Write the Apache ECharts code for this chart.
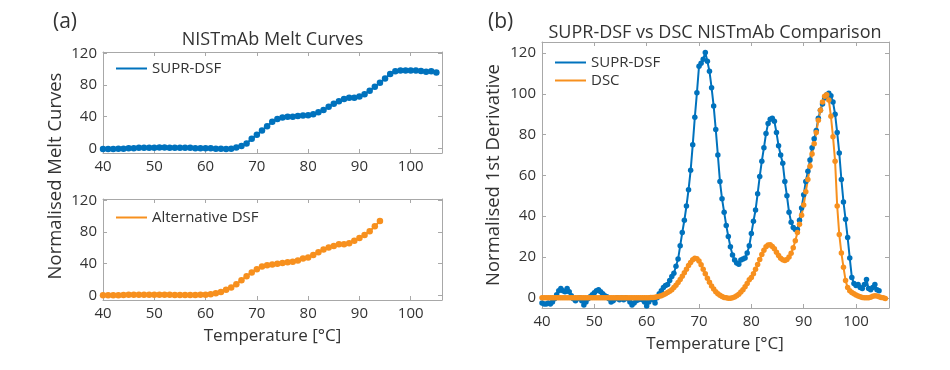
<!DOCTYPE html>
<html><head><meta charset="utf-8">
<script src="https://cdn.jsdelivr.net/npm/echarts@6/dist/echarts.min.js"></script>
<style>html,body{margin:0;padding:0;background:#fff}#c{width:950px;height:370px}</style>
</head><body><div id="c"></div>
<script>
// ---------- Panel (a): melt curves ----------
const tempMeltSupr = [40,41,42,43,44,45,46,47,48,49,
  50,51,52,53,54,55,56,57,58,59,
  60,61,62,63,64,65,66,67,68,69,
  70,71,72,73,74,75,76,77,78,79,
  80,81,82,83,84,85,86,87,88,89,
  90,91,92,93,94,95,96,97,98,99,
  100,101,102,103,104,105];
const meltSupr = [-1,-1,-1,-0.5,-0.5,0,0,0.5,0.5,0.5,
  0.5,1,1,0.5,0.5,0.5,0.5,0.5,0,0,
  0,0,-0.5,-0.5,-1,-0.5,1,3,6,12,
  17,22.5,28,33.5,37,39,40,40,41,41.5,
  42,43,45.5,48.5,52.5,56.5,59.5,62.5,64,64,
  65.5,68.5,73,78,83,88.5,94,97.5,98.5,98.5,
  98.5,98.5,98,97,97.5,96];
const tempMeltAlt = [40,41,42,43,44,45,46,47,48,49,
  50,51,52,53,54,55,56,57,58,59,
  60,61,62,63,64,65,66,67,68,69,
  70,71,72,73,74,75,76,77,78,79,
  80,81,82,83,84,85,86,87,88,89,
  90,91,92,93,94];
const meltAlt = [0,0,0,0,0.3,0.5,0.5,0.7,0.8,0.8,
  0.8,0.7,0.5,0.5,0.3,0.3,0.3,0.3,0.3,0.5,
  0.8,1.3,2.5,4,7,10,14,19,24,29,
  33,36.5,38,39,40,41,41.7,42.5,44,46.5,
  48,51,54.5,58,60.5,62.5,64.5,64.5,66,69,
  72.5,76.5,81,87.5,94];

// ---------- Panel (b): first derivative ----------
const tempDerivSupr = [40.0,40.4,40.8,41.2,41.6,42.0,42.4,42.8,43.2,43.6,
  44.0,44.4,44.8,45.2,45.6,46.0,46.4,46.8,47.2,47.6,
  48.0,48.4,48.8,49.2,49.6,50.0,50.4,50.8,51.2,51.6,
  52.0,52.4,52.8,53.2,53.6,54.0,54.4,54.8,55.2,55.6,
  56.0,56.4,56.8,57.2,57.6,58.0,58.4,58.8,59.2,59.6,
  60.0,60.4,60.8,61.2,61.6,62.0,62.4,62.8,63.2,63.6,
  64.0,64.4,64.8,65.2,65.6,66.0,66.4,66.8,67.2,67.6,
  68.0,68.4,68.8,69.2,69.6,70.0,70.4,70.8,71.2,71.6,
  72.0,72.4,72.8,73.2,73.6,74.0,74.4,74.8,75.2,75.6,
  76.0,76.4,76.8,77.2,77.6,78.0,78.4,78.8,79.2,79.6,
  80.0,80.4,80.8,81.2,81.6,82.0,82.4,82.8,83.2,83.6,
  84.0,84.4,84.8,85.2,85.6,86.0,86.4,86.8,87.2,87.6,
  88.0,88.4,88.8,89.2,89.6,90.0,90.4,90.8,91.2,91.6,
  92.0,92.4,92.8,93.2,93.6,94.0,94.4,94.8,95.2,95.6,
  96.0,96.4,96.8,97.2,97.6,98.0,98.4,98.8,99.2,99.6,
  100.0,100.4,100.8,101.2,101.6,102.0,102.4,102.8,103.2,103.6,
  104.0,104.4];
const derivSupr = [-2.5,-3,-3,-2.5,-3,-2,-0.5,1.5,3.5,4.5,
  3.5,3,4.5,3,1,-0.5,-1.5,-0.5,0,-1.5,
  -3.5,-2,-0.5,0.5,1.5,2.5,3.5,4,3,2,
  1,0.5,-0.5,-2,-1.5,-0.5,0,-1,0,-1,
  0,-0.5,-2,-3.5,-2.5,-1.5,-1,-0.5,-1,-2,
  -4,-2,0,-1,-2.5,0,2,3.5,5,6,
  6.5,8.5,10.5,12,15.5,19,25.5,32,38,45,
  53,62.5,75,88.5,100.5,113.5,115,117,120.3,116,
  111,103,94,82.5,70,57,48.5,42,35.5,30,
  25,21,18.5,17,16.5,18.5,19,19.5,22,25.5,
  31.5,37.5,43,51,59.5,67,73.5,80.5,85.5,87.5,
  88,86.5,81,74.5,70,66,57,50,42,37,
  34.5,33.5,33.5,38,44,50.5,57,62,67.5,73.5,
  78,82,88,92,95,98,99.6,100.3,99,96,
  90,81,71,58,47,38.5,29.5,19.5,10,7,
  6,6.5,5,4.5,6.5,9,4.5,4,5,6.5,
  4,3.5];
const tempDerivDsc = [40.0,40.4,40.8,41.2,41.6,42.0,42.4,42.8,43.2,43.6,
  44.0,44.4,44.8,45.2,45.6,46.0,46.4,46.8,47.2,47.6,
  48.0,48.4,48.8,49.2,49.6,50.0,50.4,50.8,51.2,51.6,
  52.0,52.4,52.8,53.2,53.6,54.0,54.4,54.8,55.2,55.6,
  56.0,56.4,56.8,57.2,57.6,58.0,58.4,58.8,59.2,59.6,
  60.0,60.4,60.8,61.2,61.6,62.0,62.4,62.8,63.2,63.6,
  64.0,64.4,64.8,65.2,65.6,66.0,66.4,66.8,67.2,67.6,
  68.0,68.4,68.8,69.2,69.6,70.0,70.4,70.8,71.2,71.6,
  72.0,72.4,72.8,73.2,73.6,74.0,74.4,74.8,75.2,75.6,
  76.0,76.4,76.8,77.2,77.6,78.0,78.4,78.8,79.2,79.6,
  80.0,80.4,80.8,81.2,81.6,82.0,82.4,82.8,83.2,83.6,
  84.0,84.4,84.8,85.2,85.6,86.0,86.4,86.8,87.2,87.6,
  88.0,88.4,88.8,89.2,89.6,90.0,90.4,90.8,91.2,91.6,
  92.0,92.4,92.8,93.2,93.6,94.0,94.4,94.8,95.2,95.6,
  96.0,96.4,96.8,97.2,97.6,98.0,98.4,98.8,99.2,99.6,
  100.0,100.4,100.8,101.2,101.6,102.0,102.4,102.8,103.2,103.6,
  104.0,104.4,104.8,105.2,105.6];
const derivDsc = [0,0,0,0,0,0,0,0,0,0,
  0,0,0,0,0,0,0,0,0,0,
  0,0,0,0,0,0,0,0,0,0,
  0,0,0,0,0,0,0,0,0,0,
  0,0,0,0,0,0,0,0,0,0,
  0,0,0.1,0.2,0.3,0.5,0.7,1,1.5,2,
  2.6,3.2,4,5,6.2,7.5,9,10.6,12.3,14,
  15.8,17.3,18.6,19.4,19.2,18,16.2,14,11.8,9.6,
  7.6,5.8,4.3,3,2,1.2,0.6,0.2,0,-0.2,
  -0.2,0,0.4,1,1.8,2.8,4,5.4,7,8.8,
  10,11.8,14,16.3,18.8,21.2,23.3,25,25.9,26,
  25.2,24,22.3,20.7,19.4,18.6,18.3,18.8,20,21.8,
  24.5,28,32,36,40.5,45.5,52,58,64.5,70.5,
  75.5,81,87,92,96,98.8,99.6,97,89,79,
  67,45,31,22,15,8.5,5,3.5,2.6,2,
  1.4,0.9,0.5,0.2,0,0,0,0.3,0.8,1,
  0.9,0.5,0.2,0,-0.3];

// ---------- Tick labels ----------
const xTickValues = [40,50,60,70,80,90,100];
const yTicksMelt = [0,40,80,120];
const yTicksDeriv = [0,20,40,60,80,100,120];

const BLUE = '#0072BD', ORANGE = '#F7901E';
const FONT = "'Open Sans', sans-serif";
const TXT = '#333333', BOX = '#a8a8a8';

function pairs(xs, ys){ return xs.map((x,i)=>[x, ys[i]]); }

const grids = [
  {left:103, top:52, width:339, height:101},
  {left:103, top:199, width:339, height:101},
  {left:542, top:42, width:347, height:266}
];
const xr = [[40,106.1],[40,106.1],[40,106.3]];
const yr = [[-6,122],[-6,122],[-5,125.4]];
const yt = [yTicksMelt, yTicksMelt, yTicksDeriv];

const xAxes = [], yAxes = [];
grids.forEach((g,i)=>{
  const common = {type:'value', gridIndex:i, splitLine:{show:false},
    axisLine:{show:true, onZero:false, lineStyle:{color:BOX,width:1}},
    axisTick:{show:true, inside:true, length:4, lineStyle:{color:BOX}}};
  xAxes.push(Object.assign({}, common, {position:'bottom', min:xr[i][0], max:xr[i][1],
    axisTick:Object.assign({}, common.axisTick, {customValues:xTickValues}),
    axisLabel:{show:true, customValues:xTickValues, margin:6, color:TXT, fontSize:15, fontFamily:FONT}}));
  xAxes.push(Object.assign({}, common, {position:'top', min:xr[i][0], max:xr[i][1],
    axisTick:Object.assign({}, common.axisTick, {customValues:xTickValues}),
    axisLabel:{show:false}}));
  yAxes.push(Object.assign({}, common, {position:'left', min:yr[i][0], max:yr[i][1],
    axisTick:Object.assign({}, common.axisTick, {customValues:yt[i]}),
    axisLabel:{show:true, customValues:yt[i], margin:6, color:TXT, fontSize:15, fontFamily:FONT}}));
  yAxes.push(Object.assign({}, common, {position:'right', min:yr[i][0], max:yr[i][1],
    axisTick:Object.assign({}, common.axisTick, {customValues:yt[i]}),
    axisLabel:{show:false}}));
});

function lineSeries(name, gi, xs, ys, color, size){
  return {type:'line', name:name, xAxisIndex:gi*2, yAxisIndex:gi*2, data:pairs(xs,ys),
    symbol:'circle', symbolSize:size, showSymbol:true, showAllSymbol:true,
    lineStyle:{color:color, width:2}, itemStyle:{color:color}, emphasis:{disabled:true}};
}

const legendCommon = {icon:'rect', itemWidth:31, itemHeight:2, itemGap:3, orient:'vertical',
  textStyle:{color:TXT, fontSize:15, fontFamily:FONT}, selectedMode:false, padding:0};

const chart = echarts.init(document.getElementById('c'), null, {renderer:'canvas'});
chart.setOption({
  animation:false,
  backgroundColor:'#fff',
  grid: grids.map(g=>Object.assign({containLabel:false}, g)),
  xAxis: xAxes,
  yAxis: yAxes,
  legend: [
    Object.assign({}, legendCommon, {left:116, top:61, data:['SUPR-DSF']}),
    Object.assign({}, legendCommon, {left:116, top:210, data:['Alternative DSF']}),
    Object.assign({}, legendCommon, {left:555, top:55, data:['SUPR-DSF','DSC']})
  ],
  series: [
    lineSeries('SUPR-DSF', 0, tempMeltSupr, meltSupr, BLUE, 6.5),
    lineSeries('Alternative DSF', 1, tempMeltAlt, meltAlt, ORANGE, 6.5),
    lineSeries('SUPR-DSF', 2, tempDerivSupr, derivSupr, BLUE, 5.5),
    lineSeries('DSC', 2, tempDerivDsc, derivDsc, ORANGE, 5.5)
  ],
  graphic: [
    {type:'text', left:53, top:12, style:{text:'(a)', fontSize:21, fontFamily:FONT, fill:TXT}},
    {type:'text', left:488, top:12, style:{text:'(b)', fontSize:21, fontFamily:FONT, fill:TXT}},
    {type:'text', x:272.5, y:40, style:{text:'NISTmAb Melt Curves', fontSize:18, fontFamily:FONT, fill:TXT, align:'center', verticalAlign:'middle'}},
    {type:'text', x:715, y:33, style:{text:'SUPR-DSF vs DSC NISTmAb Comparison', fontSize:18, fontFamily:FONT, fill:TXT, align:'center', verticalAlign:'middle'}},
    {type:'text', x:272.5, y:336, style:{text:'Temperature [°C]', fontSize:17, fontFamily:FONT, fill:TXT, align:'center', verticalAlign:'middle'}},
    {type:'text', x:715, y:344, style:{text:'Temperature [°C]', fontSize:17, fontFamily:FONT, fill:TXT, align:'center', verticalAlign:'middle'}},
    {type:'text', x:56, y:176, rotation:Math.PI/2, style:{text:'Normalised Melt Curves', fontSize:18.5, fontFamily:FONT, fill:TXT, align:'center', verticalAlign:'middle'}},
    {type:'text', x:494, y:175, rotation:Math.PI/2, style:{text:'Normalised 1st Derivative', fontSize:18.5, fontFamily:FONT, fill:TXT, align:'center', verticalAlign:'middle'}}
  ]
});
</script></body></html>
